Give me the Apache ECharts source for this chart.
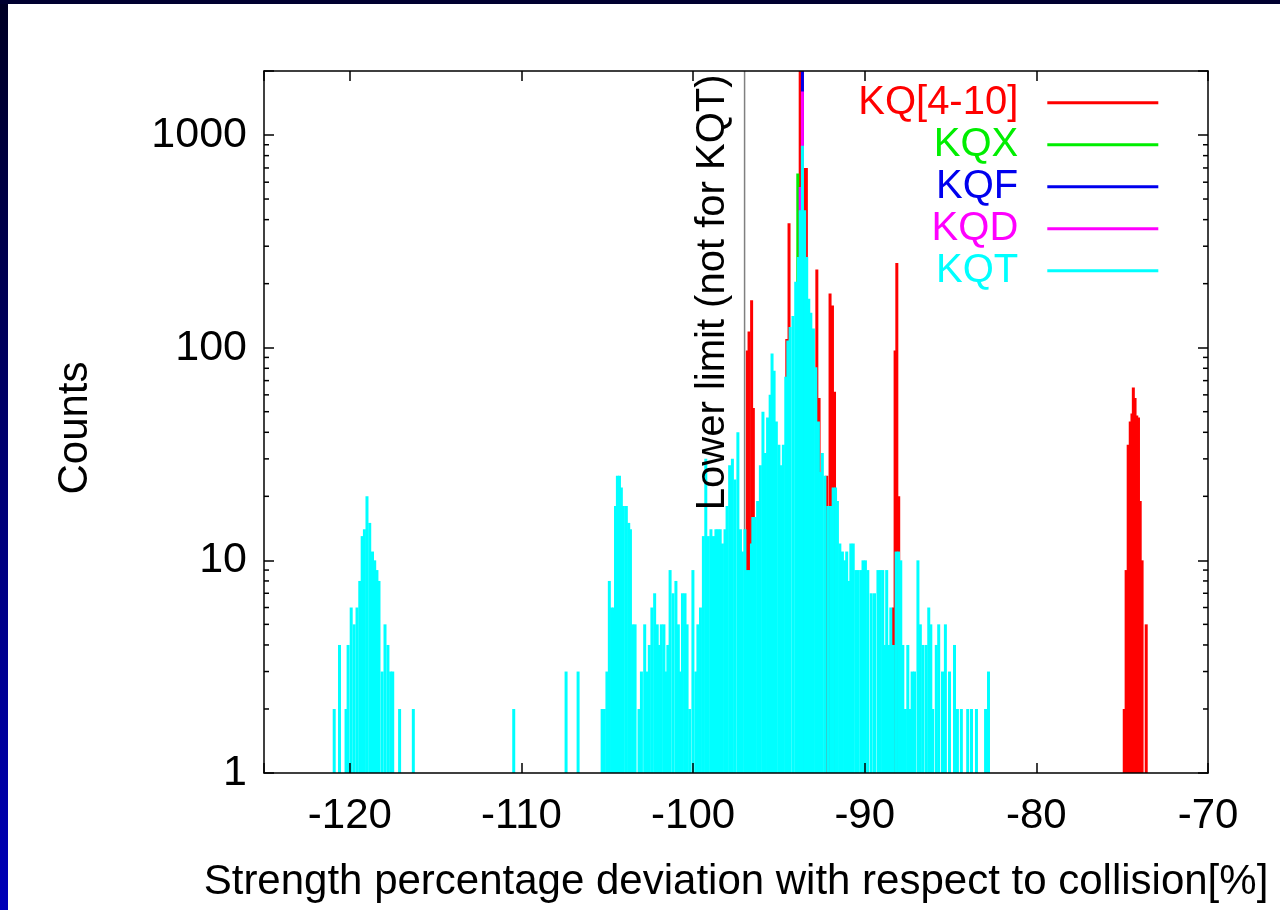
<!DOCTYPE html>
<html>
<head>
<meta charset="utf-8">
<script src="https://cdn.jsdelivr.net/npm/echarts@6/dist/echarts.min.js"></script>
<style>
  html, body { margin: 0; padding: 0; background: #fff; }
  #chart { position: absolute; left: 0; top: 0; width: 1280px; height: 910px; background: #fff; }
  #frameLeft { position: absolute; left: 0; top: 0; width: 8px; height: 910px; background: linear-gradient(#000024, #000070 50%, #0000b8); }
  #frameTop { position: absolute; left: 0; top: 0; width: 1280px; height: 4px; background: #000030; }
</style>
</head>
<body>
<div id="chart"></div>
<div id="frameLeft"></div>
<div id="frameTop"></div>
<script>
// Histogram of strength deviations per magnet family: [deviation %, counts]
const kq410 = [
  [-96.84, 97], [-96.74, 119], [-96.59, 167], [-96.49, 52],
  [-94.54, 110], [-94.41, 385],
  [-93.76, 2500], [-93.63, 2500], [-93.47, 700], [-93.40, 700],
  [-92.79, 233], [-92.66, 58],
  [-92.21, 25], [-92.02, 180], [-91.88, 158], [-91.76, 62],
  [-88.33, 6], [-88.23, 97], [-88.13, 250], [-88.02, 20],
  [-74.88, 2], [-74.77, 9], [-74.65, 35], [-74.53, 45], [-74.43, 49], [-74.35, 65],
  [-74.25, 58], [-74.15, 48], [-74.05, 47], [-73.95, 19], [-73.84, 10], [-73.60, 5]
];
const kqx = [[-93.90, 660], [-93.78, 400]];
const kqf = [[-93.63, 3000]];
const kqd = [[-93.76, 570], [-93.63, 1600]];
const kqt = [
  // around -119
  [-120.91, 2], [-120.60, 4], [-120.22, 2], [-120.10, 4], [-119.92, 6], [-119.75, 5],
  [-119.58, 6], [-119.42, 8], [-119.28, 13], [-119.15, 14], [-119.00, 20], [-118.84, 15],
  [-118.68, 11], [-118.55, 10], [-118.42, 9], [-118.30, 8], [-118.12, 3], [-117.95, 5],
  [-117.78, 4], [-117.62, 3], [-117.50, 3], [-117.10, 2], [-116.30, 2],
  // isolated entries
  [-110.45, 2], [-107.40, 3], [-106.70, 3],
  // around -104
  [-105.30, 2], [-105.17, 2], [-105.02, 3], [-104.88, 8], [-104.75, 6], [-104.62, 6],
  [-104.52, 18], [-104.41, 25], [-104.29, 25], [-104.18, 22], [-104.06, 18], [-103.89, 18],
  [-103.75, 15], [-103.65, 14], [-103.52, 5], [-103.38, 5],
  [-103.15, 2], [-103.01, 3], [-102.82, 5], [-102.68, 3], [-102.55, 4], [-102.40, 6],
  [-102.24, 7], [-102.09, 5], [-101.99, 4], [-101.85, 5], [-101.70, 5], [-101.57, 3],
  [-101.47, 4], [-101.34, 9], [-101.17, 7], [-101.00, 8], [-100.86, 5], [-100.74, 3],
  [-100.62, 7], [-100.47, 7], [-100.35, 5], [-100.20, 2], [-100.01, 9], [-99.84, 3],
  [-99.72, 5], [-99.57, 6], [-99.40, 13], [-99.26, 30], [-99.11, 13], [-98.96, 14],
  [-98.81, 13], [-98.67, 14], [-98.55, 14], [-98.42, 14], [-98.29, 12], [-98.14, 14],
  [-98.02, 18], [-97.87, 28], [-97.71, 30], [-97.56, 24], [-97.39, 40], [-97.24, 14],
  [-97.13, 11], [-96.98, 14], [-96.86, 9], [-96.73, 9], [-96.60, 12], [-96.52, 16],
  [-96.38, 16], [-96.24, 19], [-96.08, 28], [-95.93, 50], [-95.79, 32], [-95.66, 47],
  [-95.51, 60], [-95.40, 94], [-95.28, 78], [-95.15, 45], [-95.00, 35], [-94.86, 28],
  [-94.74, 35], [-94.60, 73], [-94.48, 108], [-94.35, 125], [-94.18, 141], [-94.02, 204],
  [-93.87, 267], [-93.75, 443], [-93.63, 890], [-93.50, 443], [-93.38, 267], [-93.26, 170],
  [-93.14, 146], [-92.99, 123], [-92.85, 81], [-92.70, 45], [-92.58, 26], [-92.47, 32],
  [-92.32, 25], [-92.15, 18], [-91.99, 18], [-91.84, 22], [-91.70, 22], [-91.59, 19],
  [-91.45, 12], [-91.30, 11], [-91.17, 10], [-91.05, 11], [-90.91, 8], [-90.81, 12],
  [-90.67, 12], [-90.52, 9], [-90.38, 9], [-90.22, 9], [-90.10, 10], [-89.96, 10],
  [-89.82, 9], [-89.62, 7], [-89.43, 7], [-89.23, 9], [-89.09, 9], [-88.95, 9],
  [-88.84, 4], [-88.72, 9], [-88.60, 4], [-88.48, 6], [-88.33, 4], [-88.17, 11],
  [-88.03, 11], [-87.90, 10], [-87.78, 4], [-87.63, 2], [-87.49, 4], [-87.34, 2],
  [-87.24, 3], [-87.10, 3], [-86.90, 10], [-86.76, 5], [-86.61, 4], [-86.42, 4],
  [-86.27, 6], [-86.15, 5], [-86.04, 2], [-85.83, 4], [-85.69, 5],
  [-85.47, 3], [-85.30, 5], [-85.06, 3], [-84.77, 4], [-84.60, 2], [-84.37, 2],
  [-84.00, 2], [-83.78, 2], [-83.49, 2], [-82.96, 2], [-82.79, 3]
];

const seriesNames = ['KQ[4-10]', 'KQX', 'KQF', 'KQD', 'KQT'];
const seriesColors = ['#ff0000', '#00ee00', '#0000ee', '#ff00ff', '#00ffff'];
const seriesData = [kq410, kqx, kqf, kqd, kqt];

const xMin = -125, xMax = -70;
const yMin = 1, yMax = 2000;
const xTickLabels = [-120, -110, -100, -90, -80, -70];
const yTickLabels = [1, 10, 100, 1000];
const yMinorTicks = [2, 3, 4, 5, 6, 7, 8, 9, 20, 30, 40, 50, 60, 70, 80, 90,
                     200, 300, 400, 500, 600, 700, 800, 900];
const lowerLimit = -97;
const lowerLimitText = 'Lower limit (not for KQT)';

const FONT = '"Liberation Sans", Arial, Helvetica, sans-serif';
const BAR_PX = 3;

function impulses(name, color, data) {
  return {
    type: 'custom', name, data, clip: true,
    itemStyle: { color },
    encode: { x: 0, y: 1 },
    renderItem(params, api) {
      const x = api.value(0), c = api.value(1);
      const base = api.coord([x, yMin]);
      const top = api.coord([x, c]);
      return {
        type: 'rect',
        shape: { x: base[0] - BAR_PX / 2, y: top[1], width: BAR_PX, height: base[1] - top[1] },
        style: { fill: color }
      };
    }
  };
}

const axisLineStyle = { color: '#000', width: 1.5 };
const chart = echarts.init(document.getElementById('chart'));

const option = {
  animation: false,
  grid: { left: 264, top: 71, right: 72, bottom: 137 },
  xAxis: [
    {
      type: 'value', min: xMin, max: xMax, splitNumber: 5, position: 'bottom', z: 10,
      axisLine: { lineStyle: axisLineStyle },
      axisTick: { inside: true, length: 10, lineStyle: axisLineStyle },
      splitLine: { show: false },
      axisLabel: {
        margin: 22, fontSize: 42, color: '#000', fontFamily: FONT,
        formatter: v => xTickLabels.includes(Math.round(v)) && Math.abs(v - Math.round(v)) < 1e-6 ? String(Math.round(v)) : ''
      },
      name: 'Strength percentage deviation with respect to collision[%]',
      nameLocation: 'middle', nameGap: 88,
      nameTextStyle: { fontSize: 42, color: '#000', fontFamily: FONT }
    },
    {
      type: 'value', min: xMin, max: xMax, splitNumber: 5, position: 'top', z: 10,
      axisLine: { lineStyle: axisLineStyle },
      axisTick: { inside: true, length: 10, lineStyle: axisLineStyle },
      splitLine: { show: false }, axisLabel: { show: false }
    }
  ],
  yAxis: [
    {
      type: 'log', logBase: 10, min: yMin, max: yMax, position: 'left', z: 10,
      axisLine: { lineStyle: axisLineStyle },
      axisTick: { inside: true, length: 10, lineStyle: axisLineStyle },
      splitLine: { show: false },
      axisLabel: {
        margin: 17, fontSize: 43, color: '#000', fontFamily: FONT,
        formatter: v => yTickLabels.includes(Math.round(v)) ? String(Math.round(v)) : ''
      },
      name: 'Counts', nameLocation: 'middle', nameRotate: 90, nameGap: 168,
      nameTextStyle: { fontSize: 42, color: '#000', fontFamily: FONT, padding: [0, 12, 0, 0] }
    },
    {
      type: 'log', logBase: 10, min: yMin, max: yMax, position: 'right', z: 10,
      axisLine: { lineStyle: axisLineStyle },
      axisTick: { inside: true, length: 10, lineStyle: axisLineStyle },
      splitLine: { show: false }, axisLabel: { show: false }
    }
  ],
  legend: {
    orient: 'vertical', right: 121.7, top: 81.7, padding: 0, align: 'right',
    itemWidth: 111, itemHeight: 3, itemGap: 0, icon: 'rect', selectedMode: false,
    textStyle: { fontSize: 40, fontFamily: FONT, lineHeight: 42, padding: [0, 24, 0, 0] },
    data: seriesNames.map((n, i) => ({ name: n, textStyle: { color: seriesColors[i] }, itemStyle: { color: seriesColors[i] } }))
  },
  series: [
    {
      type: 'line', name: 'lower limit', data: [[lowerLimit, yMin], [lowerLimit, yMax]],
      symbol: 'none', silent: true, z: 1,
      lineStyle: { color: '#808080', width: 1.5 }
    },
    ...seriesNames.map((n, i) => impulses(n, seriesColors[i], seriesData[i])),
    {
      type: 'custom', name: 'minor ticks', silent: true, z: 11,
      data: yMinorTicks.map(v => [xMin, v]),
      encode: { x: 0, y: 1 },
      renderItem(params, api) {
        const v = api.value(1);
        const l = api.coord([xMin, v]);
        const r = api.coord([xMax, v]);
        const st = { stroke: '#000', lineWidth: 1.5 };
        return {
          type: 'group', children: [
            { type: 'line', shape: { x1: l[0], y1: l[1], x2: l[0] + 5, y2: l[1] }, style: st },
            { type: 'line', shape: { x1: r[0] - 5, y1: r[1], x2: r[0], y2: r[1] }, style: st }
          ]
        };
      }
    }
  ]
};
chart.setOption(option);

// Rotated annotation beside the lower-limit line
const anchor = chart.convertToPixel({ gridIndex: 0 }, [lowerLimit, yMax]);
chart.setOption({
  graphic: [{
    type: 'text', z: 20,
    x: anchor[0] - 12, y: anchor[1] + 3.5, rotation: Math.PI / 2,
    style: { text: lowerLimitText, fontSize: 40, fontFamily: FONT, fill: '#000', align: 'right', verticalAlign: 'bottom' }
  }]
});
</script>
</body>
</html>
